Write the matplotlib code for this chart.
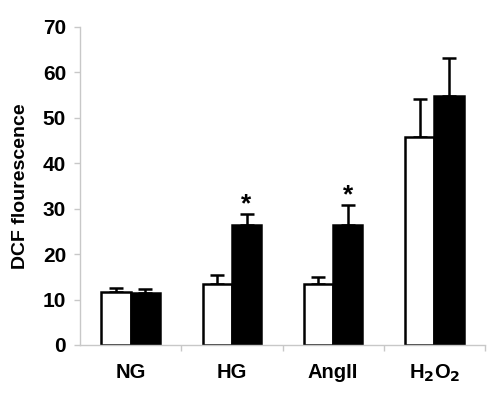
import matplotlib.pyplot as plt
import numpy as np

plt.rcParams['font.family'] = ['Liberation Sans', 'DejaVu Sans']

groups = ['NG', 'HG', 'AngII', 'H$_\\mathbf{2}$O$_\\mathbf{2}$']
white_vals = [11.6, 13.4, 13.4, 45.8]
white_err = [0.9, 2.0, 1.5, 8.4]
black_vals = [11.5, 26.4, 26.4, 54.9]
black_err = [0.9, 2.5, 4.4, 8.2]
stars = [False, True, True, False]

fig = plt.figure(figsize=(5, 3.97), dpi=100)
ax = fig.add_axes([0.16, 0.131, 0.81, 0.801])

x = np.arange(len(groups))
w = 0.29
ax.bar(x - w / 2, white_vals, w, color='white', edgecolor='black', linewidth=1.8, zorder=2)
ax.bar(x + w / 2, black_vals, w, color='black', edgecolor='black', linewidth=1.8, zorder=2)
ax.errorbar(x - w / 2, white_vals, yerr=[np.zeros(4), white_err], fmt='none',
            ecolor='black', elinewidth=1.8, capsize=5, capthick=1.8, zorder=1)
ax.errorbar(x + w / 2, black_vals, yerr=[np.zeros(4), black_err], fmt='none',
            ecolor='black', elinewidth=1.8, capsize=5, capthick=1.8, zorder=1)

for i, s in enumerate(stars):
    if s:
        ax.text(x[i] + w / 2, black_vals[i] + black_err[i] - 0.6, '*',
                ha='center', va='bottom', fontsize=19, fontweight='bold')

ax.set_xlim(-0.5, 3.5)
ax.set_ylim(0, 70)
ax.set_yticks(range(0, 71, 10))
ax.set_xticks(x)
ax.set_xticklabels(groups, fontsize=14.5, fontweight='bold')
ax.set_xticks(np.arange(0.5, 3.6, 1), minor=True)
ax.tick_params(axis='x', which='major', length=0, pad=13)
ax.tick_params(axis='x', which='minor', length=4, color='#c8c8c8', width=1)
ax.tick_params(axis='y', length=4, color='#c8c8c8', width=1, labelsize=15, pad=6)
for lab in ax.get_yticklabels():
    lab.set_fontweight('bold')

for sp in ['top', 'right']:
    ax.spines[sp].set_visible(False)
for sp in ['left', 'bottom']:
    ax.spines[sp].set_color('#c8c8c8')
    ax.spines[sp].set_linewidth(1)

ax.set_ylabel('DCF flourescence', fontsize=14, fontweight='bold', labelpad=10)

fig.savefig('out.png', dpi=100)
